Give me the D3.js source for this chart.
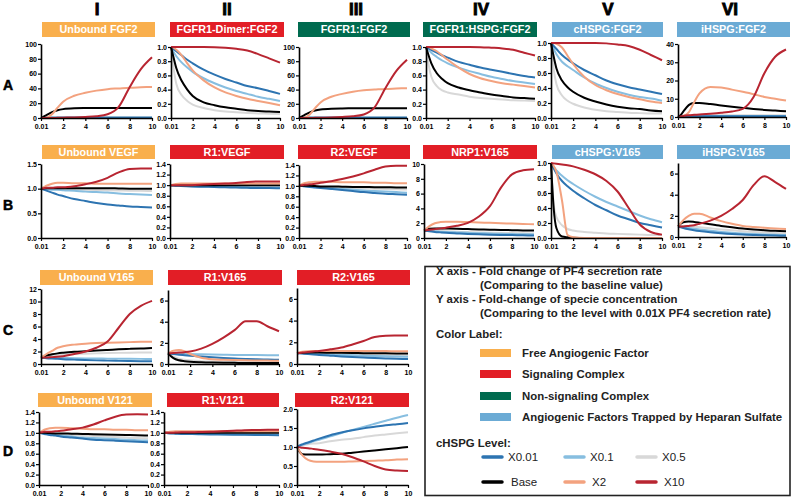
<!DOCTYPE html>
<html><head><meta charset="utf-8">
<script src="https://cdn.jsdelivr.net/npm/d3@7"></script>
<style>
body{margin:0;background:#fff;}
svg{display:block;font-family:"Liberation Sans",Arial,Helvetica,sans-serif;}
</style></head><body>
<svg id="c" width="793" height="499"></svg>
<script>
// ---------- DATA ----------
const xValues = [0.01, 0.25, 0.5, 1, 1.5, 2, 3, 4, 5, 6, 7, 8, 9, 10];
const xTicks = [0.01, 2, 4, 6, 8, 10];
const seriesNames = ["X0.01", "X0.1", "X0.5", "Base", "X2", "X10"];
const columnLabels = ["I", "II", "III", "IV", "V", "VI"];
const rowLabels = ["A", "B", "C", "D"];

// each panel: [X0.01, X0.1, X0.5, Base, X2, X10]
const A1 = [
  [0,0.3,0.4,0.5,0.5,0.5,0.5,0.5,0.5,0.5,0.5,0.5,0.5,0.5],
  [0,0.4,0.6,0.7,0.8,0.8,0.8,0.8,0.8,0.8,0.8,0.8,0.8,0.8],
  [0,0.5,0.8,1,1.1,1.2,1.2,1.2,1.2,1.2,1.2,1.2,1.2,1.2],
  [0,2,4,8,10.5,12,13.2,13.5,13.6,13.6,13.6,13.6,13.6,13.6],
  [0,0,0.5,5,14,22,30,34,37,39,40,41,41.5,42],
  [0,0,0,0,0.2,0.4,0.8,1.5,2.5,5,15,42,66,82]
];
const A2 = [
  [1,0.97,0.94,0.88,0.82,0.77,0.68,0.61,0.55,0.5,0.45,0.42,0.38,0.34],
  [1,0.93,0.87,0.78,0.71,0.65,0.56,0.49,0.43,0.38,0.34,0.3,0.27,0.24],
  [1,0.7,0.48,0.32,0.24,0.19,0.14,0.11,0.09,0.08,0.07,0.065,0.06,0.055],
  [1,0.85,0.7,0.52,0.4,0.31,0.22,0.18,0.15,0.13,0.11,0.1,0.09,0.085],
  [1,0.99,0.96,0.88,0.77,0.67,0.53,0.43,0.36,0.31,0.27,0.24,0.21,0.18],
  [1,1,1,1,1,1,1,0.998,0.99,0.975,0.95,0.9,0.84,0.78]
];
const A3 = [
  [0,0.3,0.4,0.5,0.5,0.5,0.5,0.5,0.5,0.5,0.5,0.5,0.5,0.5],
  [0,0.4,0.6,0.7,0.8,0.8,0.8,0.8,0.8,0.8,0.8,0.8,0.8,0.8],
  [0,0.5,0.8,1,1.1,1.2,1.2,1.2,1.2,1.2,1.2,1.2,1.2,1.2],
  [0,2,4,8,10.5,12,13.2,13.5,13.6,13.6,13.6,13.6,13.6,13.6],
  [0,0,0.5,5,14,22,30,34,37,39,40,41,41.5,42],
  [0,0,0,0,0.2,0.4,0.8,1.5,2.5,5,15,42,66,82]
];
const A4 = [
  [1,0.98,0.96,0.92,0.88,0.85,0.79,0.75,0.71,0.68,0.65,0.62,0.59,0.57],
  [1,0.96,0.92,0.86,0.81,0.77,0.71,0.66,0.62,0.58,0.55,0.52,0.5,0.48],
  [1,0.75,0.58,0.45,0.39,0.36,0.33,0.3,0.28,0.27,0.26,0.25,0.245,0.24],
  [1,0.88,0.77,0.63,0.55,0.49,0.43,0.39,0.36,0.33,0.31,0.29,0.28,0.27],
  [1,1,0.98,0.94,0.88,0.82,0.71,0.62,0.56,0.52,0.49,0.47,0.45,0.43],
  [1,1,1,1,1,1,1,1,0.998,0.99,0.98,0.96,0.92,0.88]
];
const A5 = [
  [1,0.96,0.92,0.84,0.78,0.73,0.64,0.57,0.5,0.45,0.41,0.38,0.35,0.32],
  [1,0.92,0.85,0.75,0.69,0.64,0.54,0.46,0.4,0.35,0.31,0.28,0.26,0.23],
  [1,0.65,0.45,0.3,0.23,0.19,0.14,0.11,0.09,0.08,0.07,0.065,0.06,0.06],
  [1,0.82,0.66,0.5,0.41,0.35,0.27,0.22,0.18,0.15,0.13,0.12,0.1,0.09],
  [1,1,0.99,0.94,0.83,0.72,0.55,0.44,0.37,0.32,0.28,0.25,0.22,0.2],
  [1,1,1,1,1,1,1,1,0.995,0.98,0.96,0.91,0.84,0.77]
];
const A6 = [
  [0,0.2,0.3,0.35,0.4,0.4,0.4,0.4,0.4,0.4,0.4,0.4,0.4,0.4],
  [0,0.3,0.45,0.55,0.6,0.6,0.6,0.6,0.6,0.6,0.6,0.6,0.6,0.6],
  [0,0.4,0.7,0.9,1,1,1,1,1,1,1,1,1,1],
  [0,1,3,6.5,7.7,7.7,7.1,6.3,5.6,5,4.4,3.9,3.5,3.1],
  [0,0,0.5,2.5,8,13,16.5,16.2,15,13.8,12.5,11,10,9],
  [0,0.3,0.6,1,1.2,1.4,1.8,2.3,3,4.5,11,24,33,37]
];
const B1 = [
  [1,0.98,0.96,0.92,0.88,0.85,0.79,0.75,0.71,0.68,0.66,0.64,0.63,0.62],
  [1,0.99,0.99,0.98,0.98,0.97,0.96,0.94,0.93,0.92,0.9,0.89,0.88,0.87],
  [1,1,1,0.995,0.99,0.99,0.985,0.98,0.975,0.97,0.965,0.96,0.96,0.955],
  [1,1.005,1.01,1.01,1.01,1.01,1.01,1.01,1.01,1.01,1.005,1,1,1],
  [1,1.03,1.06,1.1,1.12,1.12,1.11,1.11,1.1,1.1,1.1,1.1,1.1,1.1],
  [1,1.01,1.02,1.02,1.03,1.03,1.05,1.09,1.14,1.22,1.33,1.4,1.41,1.41]
];
const B2 = [
  [1,0.995,0.99,0.985,0.98,0.975,0.97,0.965,0.96,0.955,0.95,0.945,0.945,0.94],
  [1,1,0.995,0.99,0.985,0.98,0.975,0.97,0.97,0.965,0.96,0.96,0.955,0.955],
  [1,1,1,1,0.995,0.995,0.99,0.99,0.99,0.985,0.985,0.985,0.98,0.98],
  [1,1,1,1,1,1,1,1,1,1,1,1,1,1],
  [1,1.01,1.02,1.03,1.03,1.03,1.03,1.03,1.03,1.03,1.03,1.03,1.03,1.03],
  [1,1,1,1,1,1,1.01,1.02,1.03,1.04,1.06,1.07,1.07,1.07]
];
const B3 = [
  [1,0.995,0.99,0.98,0.97,0.96,0.94,0.92,0.9,0.88,0.865,0.85,0.84,0.83],
  [1,1,0.99,0.985,0.975,0.97,0.955,0.94,0.925,0.91,0.9,0.89,0.88,0.87],
  [1,1,0.995,0.99,0.985,0.98,0.97,0.96,0.955,0.95,0.945,0.94,0.935,0.93],
  [1,1,1,1,0.995,0.99,0.99,0.985,0.98,0.98,0.975,0.975,0.97,0.97],
  [1,1.03,1.05,1.07,1.08,1.08,1.08,1.07,1.07,1.07,1.06,1.06,1.05,1.05],
  [1,1.01,1.02,1.03,1.04,1.06,1.09,1.13,1.18,1.24,1.31,1.37,1.385,1.385]
];
const B4 = [
  [1,0.95,0.9,0.82,0.76,0.7,0.62,0.55,0.5,0.45,0.42,0.39,0.36,0.34],
  [1,0.97,0.94,0.9,0.86,0.82,0.76,0.7,0.65,0.6,0.56,0.53,0.5,0.48],
  [1,1,0.98,0.95,0.92,0.9,0.85,0.8,0.76,0.72,0.69,0.66,0.63,0.6],
  [1,1.15,1.25,1.3,1.3,1.28,1.25,1.2,1.16,1.12,1.09,1.06,1.03,1.0],
  [1,1.3,1.6,2.0,2.15,2.2,2.2,2.15,2.1,2.05,2.0,1.95,1.9,1.85],
  [1,1.05,1.1,1.2,1.3,1.4,1.65,2.05,2.9,4.3,6.8,8.6,9.15,9.3]
];
const B5 = [
  [1,0.93,0.86,0.76,0.69,0.63,0.53,0.44,0.37,0.3,0.25,0.2,0.17,0.14],
  [1,0.95,0.9,0.83,0.77,0.72,0.63,0.55,0.48,0.42,0.36,0.3,0.25,0.21],
  [1,0.45,0.28,0.17,0.12,0.1,0.08,0.07,0.06,0.055,0.05,0.045,0.04,0.04],
  [1,0.4,0.13,0.02,0.01,0.005,0,0,0,0,0,0,0,0],
  [1,0.96,0.88,0.5,0.04,0.01,0,0,0,0,0,0,0,0],
  [1,0.995,0.99,0.98,0.97,0.955,0.91,0.85,0.76,0.62,0.4,0.18,0.08,0.045]
];
const B6 = [
  [1,0.93,0.86,0.74,0.64,0.56,0.44,0.35,0.28,0.23,0.19,0.16,0.14,0.12],
  [1,0.97,0.93,0.85,0.77,0.7,0.58,0.48,0.4,0.33,0.28,0.24,0.21,0.19],
  [1,1.05,1.05,1.02,0.97,0.92,0.82,0.72,0.63,0.55,0.48,0.42,0.37,0.33],
  [1,1.25,1.4,1.47,1.43,1.36,1.2,1.05,0.92,0.8,0.71,0.64,0.58,0.54],
  [1,1.3,1.6,2.0,2.2,2.2,1.85,1.5,1.25,1.05,0.95,0.87,0.8,0.75],
  [1,1,1,1.05,1.12,1.25,1.55,2.0,2.65,3.5,4.9,5.75,5.2,4.55]
];
const C1 = [
  [1,0.97,0.93,0.87,0.82,0.77,0.7,0.63,0.58,0.54,0.5,0.47,0.45,0.43],
  [1,1,0.99,0.98,0.96,0.95,0.92,0.9,0.88,0.86,0.84,0.83,0.82,0.8],
  [1,1.1,1.2,1.35,1.45,1.5,1.6,1.65,1.7,1.75,1.78,1.8,1.83,1.85],
  [1,1.2,1.35,1.55,1.7,1.8,1.95,2.05,2.15,2.25,2.35,2.42,2.48,2.55],
  [1,1.3,1.6,2.1,2.6,2.85,3.1,3.25,3.35,3.4,3.45,3.5,3.55,3.55],
  [1,1.02,1.04,1.1,1.15,1.25,1.6,2.0,2.6,3.6,5.8,8.0,9.3,10.1]
];
const C2 = [
  [1,0.97,0.94,0.88,0.83,0.78,0.7,0.63,0.57,0.52,0.48,0.45,0.42,0.4],
  [1,1,0.99,0.97,0.96,0.94,0.92,0.9,0.88,0.86,0.85,0.84,0.83,0.82],
  [1,0.85,0.7,0.5,0.4,0.34,0.27,0.23,0.2,0.18,0.17,0.16,0.15,0.15],
  [1,0.75,0.55,0.35,0.27,0.22,0.17,0.14,0.12,0.11,0.1,0.1,0.09,0.09],
  [1,1.15,1.25,1.33,1.2,0.95,0.6,0.45,0.4,0.37,0.35,0.33,0.32,0.3],
  [1,1.02,1.04,1.08,1.12,1.18,1.45,1.9,2.5,3.2,4.05,4.05,3.55,3.1]
];
const C3 = [
  [1,0.98,0.96,0.92,0.88,0.84,0.77,0.7,0.64,0.59,0.55,0.51,0.48,0.45],
  [1,0.99,0.98,0.96,0.94,0.92,0.88,0.84,0.8,0.77,0.74,0.71,0.68,0.66],
  [1,1,1,0.99,0.98,0.97,0.95,0.92,0.9,0.88,0.86,0.84,0.82,0.8],
  [1,1.02,1.04,1.05,1.05,1.05,1.04,1.03,1.02,1.0,0.99,0.98,0.97,0.96],
  [1,1.08,1.13,1.18,1.2,1.2,1.2,1.2,1.2,1.2,1.19,1.19,1.18,1.18],
  [1,1.02,1.05,1.1,1.15,1.2,1.35,1.52,1.8,2.12,2.48,2.6,2.62,2.63]
];
const D1 = [
  [1,0.99,0.98,0.96,0.95,0.93,0.91,0.89,0.87,0.86,0.85,0.84,0.83,0.82],
  [1,0.99,0.985,0.97,0.96,0.95,0.93,0.91,0.9,0.89,0.88,0.87,0.86,0.855],
  [1,1,0.99,0.985,0.98,0.975,0.96,0.95,0.94,0.93,0.92,0.91,0.9,0.895],
  [1,1,1,0.995,0.99,0.99,0.985,0.98,0.975,0.97,0.965,0.96,0.955,0.95],
  [1,1.03,1.06,1.09,1.1,1.1,1.09,1.08,1.07,1.07,1.06,1.06,1.05,1.05],
  [1,1.01,1.02,1.02,1.03,1.04,1.07,1.1,1.16,1.24,1.31,1.35,1.355,1.35]
];
const D2 = [
  [1,0.995,0.99,0.985,0.98,0.978,0.975,0.97,0.968,0.965,0.962,0.96,0.958,0.955],
  [1,1,0.995,0.99,0.988,0.985,0.98,0.978,0.975,0.972,0.97,0.968,0.966,0.965],
  [1,1,1,0.998,0.996,0.995,0.993,0.99,0.99,0.988,0.987,0.986,0.985,0.985],
  [1,1,1,1,1,1,1,1,1,1,1,1,1,1],
  [1,1.01,1.02,1.03,1.03,1.03,1.03,1.03,1.03,1.03,1.03,1.03,1.03,1.03],
  [1,1,1,1.005,1.01,1.01,1.015,1.02,1.03,1.04,1.05,1.055,1.06,1.06]
];
const D3 = [
  [1,1.04,1.07,1.12,1.17,1.22,1.31,1.38,1.44,1.49,1.53,1.57,1.6,1.63],
  [1,1.03,1.06,1.1,1.15,1.19,1.28,1.37,1.45,1.53,1.61,1.69,1.77,1.84],
  [1,1.02,1.04,1.07,1.09,1.1,1.15,1.19,1.22,1.26,1.3,1.33,1.36,1.39],
  [1,0.87,0.81,0.8,0.8,0.8,0.81,0.82,0.85,0.88,0.91,0.94,0.97,1.0],
  [1,0.88,0.78,0.66,0.62,0.61,0.61,0.61,0.62,0.63,0.64,0.65,0.67,0.68],
  [1,0.99,0.98,0.97,0.95,0.93,0.88,0.82,0.73,0.62,0.5,0.41,0.38,0.37]
];

const panelData = [A1,A2,A3,A4,A5,A6,B1,B2,B3,B4,B5,B6,C1,C2,C3,D1,D2,D3];
const panelTitles = ["Unbound FGF2","FGFR1-Dimer:FGF2","FGFR1:FGF2","FGFR1:HSPG:FGF2","cHSPG:FGF2","iHSPG:FGF2",
  "Unbound VEGF","R1:VEGF","R2:VEGF","NRP1:V165","cHSPG:V165","iHSPG:V165",
  "Unbound V165","R1:V165","R2:V165","Unbound V121","R1:V121","R2:V121"];
const panelKinds = ["free","signaling","nonsignaling","nonsignaling","trapped","trapped",
  "free","signaling","signaling","signaling","trapped","trapped",
  "free","signaling","signaling","free","signaling","signaling"];
const yDomains = [[0,100],[0,1],[0,100],[0,1],[0,1],[0,40],
  [0,1.5],[0,1.4],[0,1.4],[0,10],[0,1],[0,7],
  [0,12],[0,7],[0,7],[0,1.4],[0,1.4],[0,2]];
const yTickValues = [
  [0,20,40,60,80,100],[0,0.2,0.4,0.6,0.8,1],[0,20,40,60,80,100],[0,0.2,0.4,0.6,0.8,1],[0,0.2,0.4,0.6,0.8,1],[0,10,20,30,40],
  [0,0.5,1,1.5],[0,0.2,0.4,0.6,0.8,1,1.2,1.4],[0,0.2,0.4,0.6,0.8,1,1.2,1.4],[0,2,4,6,8,10],[0,0.2,0.4,0.6,0.8,1],[0,2,4,6],
  [0,2,4,6,8,10,12],[0,2,4,6],[0,2,4,6],[0,0.2,0.4,0.6,0.8,1,1.2,1.4],[0,0.2,0.4,0.6,0.8,1,1.2,1.4],[0,0.5,1,1.5,2]];
const yFormats = ["d",".1f","d",".1f",".1f","d", ".1f",".1f",".1f","d",".1f","d", "d","d","d",".1f",".1f",".1f"];

const colorLegendKinds = ["free","signaling","nonsignaling","trapped"];
const colorLegendLabels = ["Free Angiogenic Factor","Signaling Complex","Non-signaling Complex","Angiogenic Factors Trapped by Heparan Sulfate"];
const noteTexts = ["X axis - Fold change of PF4 secretion rate","(Comparing to the baseline value)",
  "Y axis - Fold-change of specie concentration","(Comparing to the level with 0.01X PF4 secretion rate)"];

// ---------- LAYOUT / STYLE ----------
const plotRects = [ // [xLeft, xRight, yTop, yBottom]
  [41,152,44,118],[171,280,47,118],[299,407,47,118],[426,535,47,118],[551,662,43,118],[678,786,44,117],
  [41,152,164,238],[170,280,164,238],[299,407,165,238],[424,534,164,238],[551,662,163,238],[678,786,163,237],
  [41,152,289,364],[168,279,290,364],[297,408,288,364],
  [39,148,412,485],[164,279,412,485],[297,408,409,485]];
const boxRects = [ // [x0,x1,y0,y1]
  [42,155,22,37],[170,284,22,37],[298,410,22,37],[423,537,22,37],[552,663,22,37],[677,790,22,37],
  [42,155,145,159],[170,284,145,159],[298,410,145,159],[423,537,145,159],[552,663,145,159],[677,790,145,159],
  [40,153,270,285],[168,282,270,285],[297,410,270,285],
  [38,152,393,407],[167,279,393,407],[295,409,393,407]];
const colX = [97,227,356,481,608,730];
const rowY = [90,210,335,456];

const boxColors = {free:"#F9AF4D", signaling:"#E21E26", nonsignaling:"#006B4F", trapped:"#6BABD5"};
const lineColors = ["#2D74B1","#87BEE0","#D8D8D8","#000000","#F3A27F","#B82531"];
const drawOrder = [2,1,0,3,4,5];

const svg = d3.select("#c");

columnLabels.forEach((t,i)=>{
  svg.append("text").attr("x",colX[i]).attr("y",15).attr("text-anchor","middle")
    .attr("font-size",17).attr("font-weight","bold").attr("stroke","#000").attr("stroke-width",0.9).text(t);
});
rowLabels.forEach((t,i)=>{
  svg.append("text").attr("x",8).attr("y",rowY[i]).attr("text-anchor","middle")
    .attr("font-size",14).attr("font-weight","bold").attr("stroke","#000").attr("stroke-width",0.5).text(t);
});

panelData.forEach((series,i)=>{
  const [x0,x1,yt,yb] = plotRects[i];
  const x = d3.scaleLinear().domain([0.01,10]).range([x0,x1]);
  const y = d3.scaleLinear().domain(yDomains[i]).range([yb,yt]);
  const [bx0,bx1,by0,by1] = boxRects[i];
  svg.append("rect").attr("x",bx0).attr("y",by0).attr("width",bx1-bx0).attr("height",by1-by0)
    .attr("fill",boxColors[panelKinds[i]]);
  svg.append("text").attr("x",(bx0+bx1)/2).attr("y",(by0+by1)/2+3.9).attr("text-anchor","middle")
    .attr("font-size",10.8).attr("font-weight","bold").attr("fill","#fff").text(panelTitles[i]);

  const line = d3.line().x((d,j)=>x(xValues[j])).y(d=>y(d)).curve(d3.curveMonotoneX);
  const g = svg.append("g");
  drawOrder.forEach(s=>{
    g.append("path").attr("d",line(series[s])).attr("fill","none")
      .attr("stroke",lineColors[s]).attr("stroke-width",2).attr("stroke-linejoin","round");
  });

  const fx = d => d===0.01 ? "0.01" : d3.format("d")(d);
  const ax = svg.append("g").attr("transform",`translate(0,${yb})`)
    .call(d3.axisBottom(x).tickValues(xTicks).tickFormat(fx).tickSize(3).tickSizeOuter(0));
  const ay = svg.append("g").attr("transform",`translate(${x0},0)`)
    .call(d3.axisLeft(y).tickValues(yTickValues[i]).tickFormat(d3.format(yFormats[i])).tickSize(3).tickSizeOuter(0));
  [ax,ay].forEach(a=>{
    a.attr("font-family",null).attr("font-size",null);
    a.select(".domain").attr("stroke","#000").attr("stroke-width",1.6);
    a.selectAll(".tick line").attr("stroke","#000").attr("stroke-width",1.2);
    a.selectAll(".tick text").attr("font-size",7).attr("font-weight","bold").attr("fill","#000");
  });
  ax.selectAll(".tick text").attr("y",6.5);
  ay.selectAll(".tick text").attr("x",-4);
});

// ---------- LEGEND ----------
svg.append("rect").attr("x",425).attr("y",266.5).attr("width",365).attr("height",229)
  .attr("fill","none").attr("stroke","#222").attr("stroke-width",1.6);
const notePos = [[436,275],[480,289],[436,302.5],[480,316.5]];
noteTexts.forEach((t,i)=>{
  svg.append("text").attr("x",notePos[i][0]).attr("y",notePos[i][1]).attr("font-size",11.4)
    .attr("font-weight","bold").attr("fill","#222").text(t);
});
svg.append("text").attr("x",436).attr("y",338).attr("font-size",11.4).attr("font-weight","bold").attr("fill","#222").text("Color Label:");
const swY = [353,374,396,417];
colorLegendKinds.forEach((k,i)=>{
  svg.append("rect").attr("x",480).attr("y",swY[i]-4).attr("width",31).attr("height",8).attr("fill",boxColors[k]);
  svg.append("text").attr("x",522).attr("y",swY[i]+4).attr("font-size",11.4).attr("font-weight","bold")
    .attr("fill","#222").text(colorLegendLabels[i]);
});
svg.append("text").attr("x",436).attr("y",447).attr("font-size",11.4).attr("font-weight","bold").attr("fill","#222").text("cHSPG Level:");
const lgX = [483,565,637,483,565,637];
const lgY = [457,457,457,482,482,482];
const lgTx = [508,590,662,511,592,664];
seriesNames.forEach((n,i)=>{
  svg.append("line").attr("x1",lgX[i]).attr("x2",lgX[i]+19).attr("y1",lgY[i]).attr("y2",lgY[i])
    .attr("stroke",lineColors[i]).attr("stroke-width",3.5).attr("stroke-linecap","round");
  svg.append("text").attr("x",lgTx[i]).attr("y",lgY[i]+4).attr("font-size",11.5).attr("fill","#222").text(n);
});
</script>
</body></html>
